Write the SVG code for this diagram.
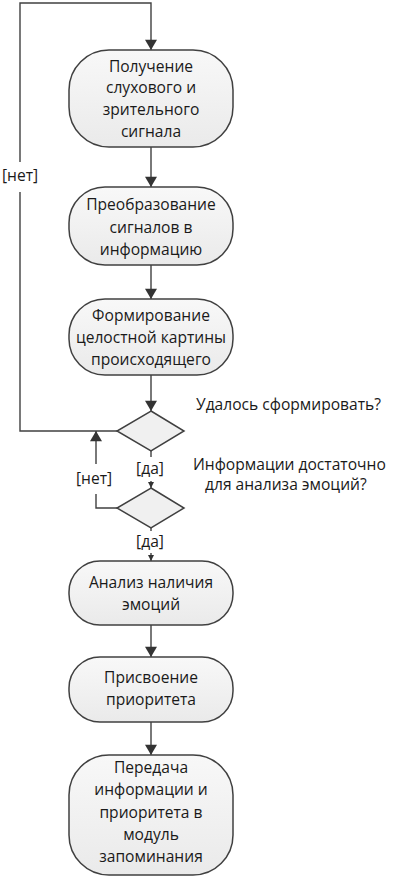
<svg xmlns="http://www.w3.org/2000/svg" width="395" height="880" viewBox="0 0 395 880">
<defs>
<linearGradient id="g" x1="0" y1="0" x2="0" y2="1">
<stop offset="0" stop-color="#f8f8f8"/>
<stop offset="1" stop-color="#eaeaea"/>
</linearGradient>
<marker id="a" viewBox="0 0 12 14" refX="12" refY="7" markerWidth="14" markerHeight="12" markerUnits="userSpaceOnUse" orient="auto">
<path d="M0,0 L12,7 L0,14 Z" fill="#333"/>
</marker>
<marker id="s" viewBox="0 0 6 6" refX="6" refY="3" markerWidth="6" markerHeight="6" markerUnits="userSpaceOnUse" orient="auto">
<path d="M0,0 L6,3 L0,6 Z" fill="#333"/>
</marker>
</defs>
<style>
.n{fill:url(#g);stroke:#404040;stroke-width:1.5}
.d{fill:#f0f0f0;stroke:#404040;stroke-width:1.5}
.c{fill:none;stroke:#404040;stroke-width:1.4}
text{font-family:"Open Sans","Noto Sans",sans-serif;font-size:15.6px;fill:#1a1a1a}
.m{text-anchor:middle}
</style>
<rect width="395" height="880" fill="#fff"/>
<g id="connectors">
<path class="c" d="M117,431 H20 V192"/>
<path class="c" d="M20,162 V3 H151 V50" marker-end="url(#a)"/>
<path class="c" d="M151,147 V187" marker-end="url(#a)"/>
<path class="c" d="M151,265 V299" marker-end="url(#a)"/>
<path class="c" d="M151,375 V411" marker-end="url(#a)"/>
<path class="c" d="M151,451 V457"/>
<path class="c" d="M151,481 V488" marker-end="url(#s)"/>
<path class="c" d="M117,508 H96 V494"/>
<path class="c" d="M96,464 V431" marker-end="url(#a)"/>
<path class="c" d="M151,528 V531"/>
<path class="c" d="M151,553 V561" marker-end="url(#s)"/>
<path class="c" d="M151,625 V657" marker-end="url(#a)"/>
<path class="c" d="M151,722 V755" marker-end="url(#a)"/>
<text x="20" y="181" class="m">[нет]</text>
<text x="94" y="484" class="m">[нет]</text>
<text x="150" y="474" class="m">[да]</text>
<text x="150" y="547" class="m">[да]</text>
</g>
<g id="n1">
<rect class="n" x="69" y="50" width="164" height="97" rx="40"/>
<text class="m" x="151" y="72">Получение</text>
<text class="m" x="151" y="93">слухового и</text>
<text class="m" x="151" y="115">зрительного</text>
<text class="m" x="151" y="137">сигнала</text>
</g>
<g id="n2">
<rect class="n" x="69" y="187" width="164" height="78" rx="36"/>
<text class="m" x="151" y="210">Преобразование</text>
<text class="m" x="151" y="233">сигналов в</text>
<text class="m" x="151" y="255">информацию</text>
</g>
<g id="n3">
<rect class="n" x="69" y="299" width="164" height="76" rx="36"/>
<text class="m" x="151" y="321">Формирование</text>
<text class="m" x="151" y="343">целостной картины</text>
<text class="m" x="151" y="365">происходящего</text>
</g>
<g id="d1">
<polygon class="d" points="151,411 184,431 151,451 117,431"/>
<text x="196" y="410">Удалось сформировать?</text>
</g>
<g id="d2">
<polygon class="d" points="151,488 184,508 151,528 117,508"/>
<text x="193" y="470">Информации достаточно</text>
<text x="205" y="490">для анализа эмоций?</text>
</g>
<g id="n4">
<rect class="n" x="69" y="561" width="164" height="64" rx="31"/>
<text class="m" x="151" y="588">Анализ наличия</text>
<text class="m" x="151" y="610">эмоций</text>
</g>
<g id="n5">
<rect class="n" x="69" y="657" width="164" height="65" rx="31"/>
<text class="m" x="151" y="683">Присвоение</text>
<text class="m" x="151" y="705">приоритета</text>
</g>
<g id="n6">
<rect class="n" x="69" y="755" width="164" height="120" rx="40"/>
<text class="m" x="151" y="773">Передача</text>
<text class="m" x="151" y="795">информации и</text>
<text class="m" x="151" y="818">приоритета в</text>
<text class="m" x="151" y="840">модуль</text>
<text class="m" x="151" y="862">запоминания</text>
</g>
</svg>
